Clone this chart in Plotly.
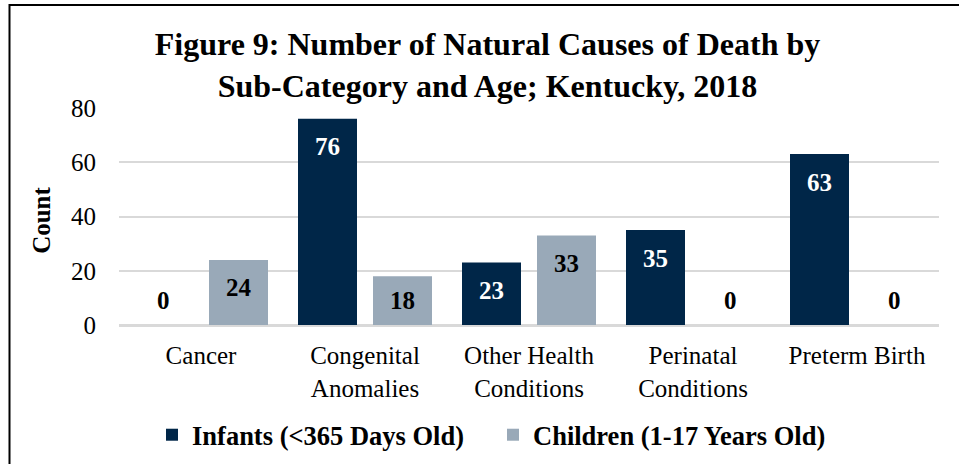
import plotly.graph_objects as go

categories = ["Cancer", "Congenital<br>Anomalies", "Other Health<br>Conditions", "Perinatal<br>Conditions", "Preterm Birth"]
infants = [0, 76, 23, 35, 63]
children = [24, 18, 33, 0, 0]
series_names = ["Infants (<365 Days Old)", "Children (1-17 Years Old)"]
y_ticks = [0, 20, 40, 60, 80]

NAVY = "#002648"
GREY = "#99A9B8"
FONT = "Liberation Serif"

W, H = 959, 464
ML, MR, MT, MB = 119, 20, 108, 139
plot_w = W - ML - MR
plot_h = H - MT - MB
y_max = 80
px_per_unit = plot_h / y_max

fig = go.Figure()
fig.add_trace(go.Bar(x=categories, y=infants, name="<b>%s</b>" % series_names[0],
                     marker=dict(color=NAVY, line=dict(width=0))))
fig.add_trace(go.Bar(x=categories, y=children, name="<b>%s</b>" % series_names[1],
                     marker=dict(color=GREY, line=dict(width=0))))

# data labels (inside end, clamped above baseline)
annotations = []
for vals, shift, col_in in [(infants, -37.5, "white"), (children, 37.5, "black")]:
    for c, v in zip(categories, vals):
        if v * px_per_unit - 28 < 25:
            y, ys = 0, 25
            color = "black" if v == 0 else col_in
        else:
            y, ys = v, -28
            color = col_in
        annotations.append(dict(x=c, y=y, xref="x", yref="y", text="<b>%d</b>" % v,
                                showarrow=False, xshift=shift, yshift=ys, yanchor="middle",
                                xanchor="center",
                                font=dict(family=FONT, size=25, color=color)))

annotations.append(dict(x=(42 - ML) / plot_w, y=0.48, xref="paper", yref="paper",
                        text="<b>Count</b>", textangle=-90, showarrow=False,
                        xanchor="center", yanchor="middle",
                        font=dict(family=FONT, size=25, color="black")))

fig.update_layout(
    width=W, height=H,
    margin=dict(l=ML, r=MR, t=MT, b=MB, autoexpand=False),
    paper_bgcolor="white", plot_bgcolor="white",
    barmode="group", bargap=0.0854, bargroupgap=0.2133,
    title=dict(text="<b>Figure 9: Number of Natural Causes of Death by<br>Sub-Category and Age; Kentucky, 2018</b>",
               x=(487.5 - ML) / plot_w, xref="paper", xanchor="center",
               y=1 - 55 / H, yref="container", yanchor="top",
               font=dict(family=FONT, size=32, color="black")),
    font=dict(family=FONT, size=25, color="black"),
    xaxis=dict(showgrid=False, showline=False, ticks="", ticklabelstandoff=13,
               tickfont=dict(family=FONT, size=25, color="black")),
    yaxis=dict(range=[0, y_max], tickvals=y_ticks, showgrid=True, gridcolor="#D9D9D9", gridwidth=1.5,
               zeroline=True, zerolinecolor="#D9D9D9", zerolinewidth=2.5, showline=False,
               ticks="", ticklabelstandoff=22, tickfont=dict(family=FONT, size=25, color="black")),
    legend=dict(orientation="h", x=(166 - 14 - ML) / plot_w, xanchor="left", y=(325 - 435) / plot_h,
                yanchor="middle", font=dict(family=FONT, size=26.5, color="black"), itemclick=False,
                traceorder="normal", entrywidth=296),
    annotations=annotations,
    shapes=[dict(type="rect", xref="paper", yref="paper",
                 x0=(9.5 - ML) / plot_w, x1=(975 - ML) / plot_w,
                 y0=(325 - 480) / plot_h, y1=(325 - 5) / plot_h,
                 line=dict(color="black", width=2), fillcolor="rgba(0,0,0,0)", layer="below")],
)

fig.write_html("out.html", config={"displayModeBar": False},
               post_script="document.body.style.margin='0';")
